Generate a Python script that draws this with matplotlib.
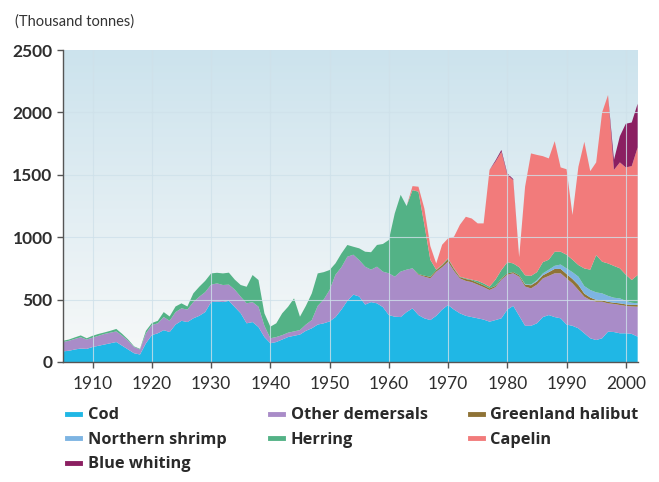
import numpy as np
import matplotlib
matplotlib.use("Agg")
import matplotlib.pyplot as plt
from matplotlib.lines import Line2D

plt.rcParams["font.family"] = ["Lato", "DejaVu Sans"]

# Catches by species, thousand tonnes, one value per year 1905-2002
years = list(range(1905, 2003))

cod = [
    85, 90, 100, 108, 105, 120, 130, 140, 150, 160,
    130, 100, 70, 60, 150, 215, 230, 255, 240, 300,
    330, 320, 350, 370, 400, 480, 485, 480, 490, 440,
    390, 310, 320, 280, 200, 150, 160, 180, 200, 210,
    220, 250, 270, 300, 310, 325, 360, 420, 490, 540,
    525, 460, 480, 470, 440, 376, 363, 360, 400, 430,
    376, 350, 336, 370, 420, 457, 420, 390, 370, 360,
    350, 340, 323, 336, 350, 420, 450, 370, 290, 290,
    310, 360, 376, 360, 350, 300, 290, 270, 230, 190,
    176, 190, 243, 240, 230, 230, 225, 203]

other_demersals = [
    75, 80, 85, 90, 75, 75, 80, 85, 85, 85,
    80, 70, 50, 40, 80, 81, 80, 105, 90, 100,
    100, 100, 130, 153, 160, 140, 145, 137, 130, 140,
    133, 160, 160, 163, 90, 40, 40, 35, 35, 35,
    36, 50, 66, 150, 190, 252, 340, 340, 354, 320,
    292, 304, 260, 294, 284, 335, 321, 365, 340, 321,
    324, 334, 335, 354, 340, 347, 310, 280, 280, 280,
    270, 260, 254, 264, 310, 280, 261, 314, 315, 300,
    310, 310, 314, 351, 361, 370, 340, 307, 293, 307,
    307, 293, 227, 225, 227, 220, 220, 240]

greenland_halibut = [
    0, 0, 0, 0, 0, 0, 0, 0, 0, 0,
    0, 0, 0, 0, 0, 0, 0, 0, 0, 0,
    0, 0, 0, 0, 0, 0, 0, 0, 0, 0,
    0, 0, 0, 0, 0, 0, 0, 0, 0, 0,
    0, 0, 0, 0, 0, 0, 0, 0, 0, 0,
    0, 0, 0, 0, 0, 0, 0, 0, 0, 0,
    5, 8, 12, 12, 15, 20, 15, 10, 15, 15,
    15, 15, 13, 10, 10, 10, 10, 11, 15, 25,
    25, 25, 30, 35, 35, 35, 35, 40, 25, 20,
    15, 12, 12, 10, 13, 12, 13, 15]

northern_shrimp = [
    0, 0, 0, 0, 0, 0, 0, 0, 0, 0,
    0, 0, 0, 0, 0, 0, 0, 0, 0, 0,
    0, 0, 0, 0, 0, 0, 0, 0, 0, 0,
    0, 0, 0, 0, 0, 0, 0, 0, 0, 0,
    0, 0, 0, 0, 0, 0, 0, 0, 0, 0,
    0, 0, 0, 0, 0, 0, 0, 0, 0, 0,
    0, 0, 0, 0, 0, 0, 0, 0, 0, 0,
    0, 0, 0, 0, 0, 0, 0, 0, 5, 5,
    10, 15, 20, 25, 35, 45, 55, 67, 60, 60,
    60, 55, 48, 40, 40, 28, 17, 12]

herring = [
    10, 10, 12, 15, 10, 15, 15, 12, 15, 20,
    15, 10, 5, 5, 20, 16, 20, 40, 35, 45,
    40, 25, 70, 80, 90, 90, 85, 93, 96, 80,
    94, 133, 217, 214, 100, 93, 110, 175, 208, 265,
    107, 150, 214, 260, 220, 160, 91, 110, 94, 64,
    94, 120, 140, 174, 222, 267, 507, 615, 510, 627,
    660, 408, 137, 4, 5, 7, 6, 4, 6, 5,
    15, 15, 14, 50, 67, 90, 69, 65, 70, 70,
    65, 90, 80, 113, 103, 110, 100, 93, 142, 163,
    299, 254, 260, 255, 241, 210, 182, 227]

capelin = [
    0, 0, 0, 0, 0, 0, 0, 0, 0, 0,
    0, 0, 0, 0, 0, 0, 0, 0, 0, 0,
    0, 0, 0, 0, 0, 0, 0, 0, 0, 0,
    0, 0, 0, 0, 0, 0, 0, 0, 0, 0,
    0, 0, 0, 0, 0, 0, 0, 0, 0, 0,
    0, 0, 0, 0, 0, 0, 0, 0, 0, 32,
    40, 130, 110, 50, 160, 160, 253, 416, 493, 490,
    461, 481, 936, 945, 948, 700, 668, 80, 710, 982,
    940, 850, 812, 886, 676, 685, 358, 788, 1015, 790,
    743, 1196, 1350, 770, 849, 860, 913, 1023]

blue_whiting = [
    0, 0, 0, 0, 0, 0, 0, 0, 0, 0,
    0, 0, 0, 0, 0, 0, 0, 0, 0, 0,
    0, 0, 0, 0, 0, 0, 0, 0, 0, 0,
    0, 0, 0, 0, 0, 0, 0, 0, 0, 0,
    0, 0, 0, 0, 0, 0, 0, 0, 0, 0,
    0, 0, 0, 0, 0, 0, 0, 0, 0, 0,
    0, 0, 0, 0, 0, 0, 0, 0, 0, 0,
    0, 0, 0, 10, 15, 12, 8, 0, 0, 0,
    0, 0, 0, 0, 0, 0, 0, 0, 0, 0,
    0, 0, 0, 80, 210, 350, 350, 350]

# stacking order, bottom to top
series = [cod, other_demersals, greenland_halibut, northern_shrimp,
          herring, capelin, blue_whiting]
names = ["Cod", "Other demersals", "Greenland halibut", "Northern shrimp",
         "Herring", "Capelin", "Blue whiting"]
colors = ["#20b7e5", "#a98cc8", "#8f7336", "#7db4e2",
          "#53b286", "#f27b7b", "#8b1f61"]

x_ticks = [1910, 1920, 1930, 1940, 1950, 1960, 1970, 1980, 1990, 2000]
y_ticks = [0, 500, 1000, 1500, 2000, 2500]

fig = plt.figure(figsize=(6.59, 4.82), dpi=100)
ax = fig.add_axes([0.0956, 0.249, 0.872, 0.647])

# light blue to white background
grad = np.linspace(0, 1, 256).reshape(-1, 1)
top_col = np.array([0.80, 0.89, 0.93])
bot_col = np.array([0.97, 0.975, 0.975])
img = top_col + (bot_col - top_col) * grad[:, :, None]
ax.imshow(img, extent=[0, 1, 0, 1], transform=ax.transAxes,
          aspect="auto", zorder=0)

ax.stackplot(years, *series, colors=colors, linewidth=0, zorder=2)

ax.set_xlim(1905, 2002)
ax.set_ylim(0, 2500)
ax.set_xticks(x_ticks)
ax.set_yticks(y_ticks)

# grid on top of the areas, pale
for yv in y_ticks[1:-1]:
    ax.axhline(yv, color="#cfe1ea", lw=0.8, alpha=0.8, zorder=3)
for xv in x_ticks:
    ax.axvline(xv, color="#cfe1ea", lw=0.8, alpha=0.8, zorder=3)

for s in ["top", "right"]:
    ax.spines[s].set_visible(False)
for s in ["left", "bottom"]:
    ax.spines[s].set_color("#555555")
    ax.spines[s].set_linewidth(1.0)
    ax.spines[s].set_zorder(4)

ax.tick_params(axis="both", colors="#555555", length=4, width=1,
               labelcolor="#2e2e2e", labelsize=12.5)
ax.tick_params(axis="x", pad=6)
ax.tick_params(axis="y", pad=3.5)
for lab in ax.get_yticklabels():
    lab.set_fontweight("bold")

fig.text(0.023, 0.956, "(Thousand tonnes)", fontsize=10.5, color="#333333",
         va="center", ha="left")

# legend: three columns placed separately so they line up like the original
columns = [[0, 3, 6], [1, 4], [2, 5]]
col_x = [0.102, 0.41, 0.713]
for idx, cx in zip(columns, col_x):
    handles = [Line2D([0], [0], color=colors[i], lw=3.5) for i in idx]
    labels = [names[i] for i in idx]
    fig.legend(handles, labels, loc="upper left",
               bbox_to_anchor=(cx, 0.155), frameon=False,
               prop={"family": "Open Sans", "weight": "bold", "size": 11.8},
               labelcolor="#2a2a2a", handlelength=0.8,
               handletextpad=0.45, labelspacing=0.52, borderpad=0,
               borderaxespad=0)

fig.savefig("out.png", dpi=100)
